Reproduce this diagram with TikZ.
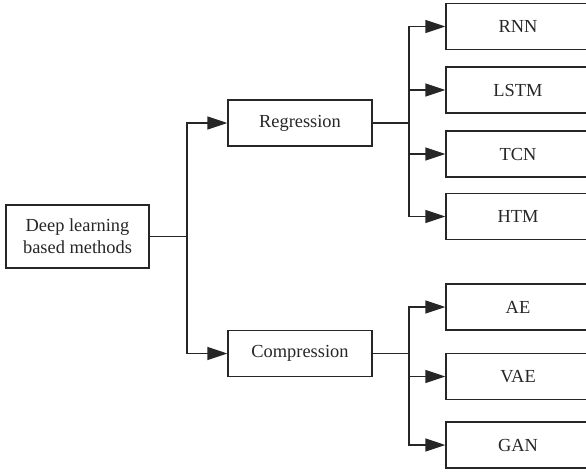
\documentclass[tikz,border=0pt]{standalone}
\usepackage{fontspec}
\setmainfont{Liberation Serif}
\usetikzlibrary{arrows.meta}

\begin{document}
\begin{tikzpicture}[x=1pt, y=-1pt, line width=1.4pt, draw=black!85,
        box/.style={draw=black!85, text=black!85, minimum width=144pt, minimum height=46pt,
            inner sep=0pt, font=\fontsize{18.4}{22}\selectfont, align=center},
        arr/.style={-{Triangle[length=20pt, width=13pt]}}]
        \useasboundingbox (0, 0) rectangle (586, 471);
        \clip (0, 0) rectangle (586, 471);
        \node[box, minimum width=143pt, minimum height=63pt] (root) at (77.5, 236.5) {Deep learning\\based methods};
        \node[box] (regr) at (300, 123) {Regression};
        \node[box] (comp) at (300, 353.5) {Compression};
        \node[box] (rnn) at (518, 26.5) {RNN};
        \node[box] (lstm) at (518, 90) {LSTM};
        \node[box] (tcn) at (518, 154) {TCN};
        \node[box] (htm) at (518, 216.5) {HTM};
        \node[box] (ae) at (518, 307) {AE};
        \node[box] (vae) at (518, 376.5) {VAE};
        \node[box] (gan) at (518, 445) {GAN};
        \coordinate (J) at (187, 236.5);
        \coordinate (JR) at (409, 123);
        \coordinate (JC) at (409, 353.5);
        \draw (root) -- (J); \draw[arr] (J) |- (regr); \draw[arr] (J) |- (comp);
        \draw (regr) -- (JR);
        \draw[arr] (JR) |- (rnn); \draw[arr] (JR) |- (lstm); \draw[arr] (JR) |- (tcn); \draw[arr] (JR) |- (htm);
        \draw (comp) -- (JC);
        \draw[arr] (JC) |- (ae); \draw[arr] (JC) |- (vae); \draw[arr] (JC) |- (gan);
    \end{tikzpicture}
\end{document}
